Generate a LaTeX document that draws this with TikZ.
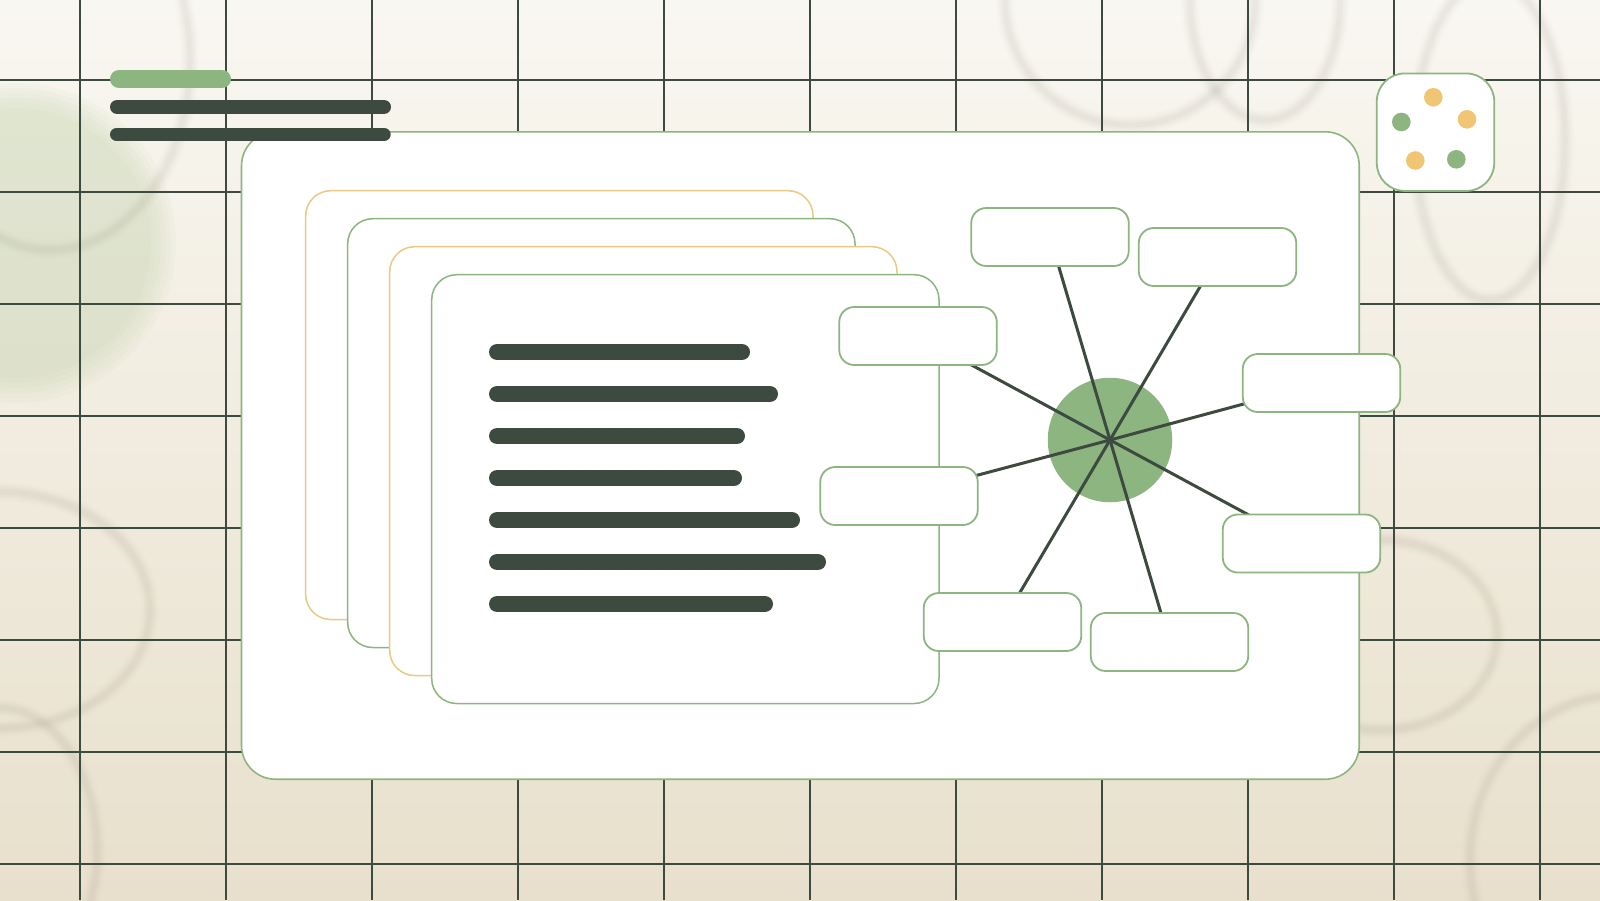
\documentclass[tikz,border=0pt]{standalone}
\definecolor{bgtop}{HTML}{F9F7F1}
\definecolor{bgbot}{HTML}{E8E0CC}
\definecolor{blobc}{HTML}{C9D6B4}
\definecolor{ringc}{HTML}{8C8270}
\definecolor{gr}{HTML}{8DB580}
\definecolor{dk}{HTML}{3C4A3F}
\definecolor{yst}{HTML}{E9C985}
\definecolor{ydot}{HTML}{F0C674}
\pgfdeclarelayer{back}
\pgfdeclarelayer{conn}
\pgfsetlayers{back,conn,main}
\begin{document}
\begin{tikzpicture}[x=1pt,y=-1pt,
  gridl/.style={draw=dk,line width=1.1pt},
  ring/.style={draw=ringc},
  bigcard/.style={draw=gr,fill=white,line width=1.6pt,rounded corners=34pt},
  gcard/.style={draw=gr,fill=white,line width=1.5pt,rounded corners=25pt},
  ycard/.style={draw=yst,fill=white,line width=1.5pt,rounded corners=25pt},
  txtbar/.style={draw=dk,line width=16pt,line cap=round},
  mmbox/.style={draw=gr,fill=white,line width=1.8pt,rounded corners=15pt,minimum width=157.5pt,minimum height=58pt,inner sep=0pt},
  hubc/.style={circle,fill=gr,minimum size=124.5pt,inner sep=0pt},
  conn/.style={draw=dk,line width=3pt},
  dicebox/.style={draw=gr,fill=white,line width=1.8pt,rounded corners=28pt,minimum width=117.5pt,minimum height=117.5pt,inner sep=0pt}]
\useasboundingbox (0,0) rectangle (1600,900);
\begin{pgfonlayer}{back}
  \shade[top color=bgtop,bottom color=bgbot] (0,0) rectangle (1600,900);
  \foreach \r in {135,140,...,160} \fill[blobc,opacity=0.095] (16,243) circle[radius=\r];
  \foreach \w/\o in {18/0.02,13/0.03,9/0.035,5/0.04}{
    \draw[ring,line width=\w pt,opacity=\o] (50,60) ellipse[x radius=140,y radius=190];
    \draw[ring,line width=\w pt,opacity=\o] (1130,0) ellipse[x radius=125,y radius=125];
    \draw[ring,line width=\w pt,opacity=\o] (1265,0) ellipse[x radius=75,y radius=120];
    \draw[ring,line width=\w pt,opacity=\o] (1490,140) ellipse[x radius=75,y radius=160];
    \draw[ring,line width=\w pt,opacity=\o] (0,610) ellipse[x radius=150,y radius=118];
    \draw[ring,line width=\w pt,opacity=\o] (0,850) ellipse[x radius=97,y radius=142];
    \draw[ring,line width=\w pt,opacity=\o] (1380,635) ellipse[x radius=117,y radius=95];
    \draw[ring,line width=\w pt,opacity=\o] (1620,860) ellipse[x radius=150,y radius=165];
  }
  \foreach \i in {0,...,10} \draw[gridl] ({80+146*\i},0) -- ({80+146*\i},900);
  \foreach \j in {0,...,7} \draw[gridl] (0,{80+112*\j}) -- (1600,{80+112*\j});
  \path[bigcard] (241.5,131.8) rectangle (1359.2,779.2);
  \path[ycard] (305.7,190.7) rectangle (813,619.5);
  \path[gcard] (347.7,218.7) rectangle (855,647.5);
  \path[ycard] (389.7,246.7) rectangle (897,675.5);
  \path[gcard] (431.7,274.7) rectangle (939,703.5);
  \foreach \e/\y in {750/352,778/394,745/436,742/478,800/520,826/562,773/604}
    \draw[txtbar] (497,\y) -- ({\e-8},\y);
\end{pgfonlayer}
% mind-map boxes
\node[mmbox] (b1) at (1050,237) {};
\node[mmbox] (b2) at (1217.5,257) {};
\node[mmbox] (b3) at (918,336) {};
\node[mmbox] (b4) at (1321.5,383) {};
\node[mmbox] (b5) at (899,496) {};
\node[mmbox] (b6) at (1301.5,543.5) {};
\node[mmbox] (b7) at (1002.5,622) {};
\node[mmbox] (b8) at (1169.5,642) {};
\begin{pgfonlayer}{conn}
  \node[hubc] (hub) at (1110,440) {};
  \foreach \b in {b1,b2,b3,b4,b5,b6,b7,b8} \draw[conn] (hub.center) -- (\b.center);
\end{pgfonlayer}
% dice icon
\node[dicebox] (dice) at (1435.5,132.2) {};
\fill[ydot] (1433.3,97.3) circle[radius=9.3];
\fill[gr] (1401.3,122) circle[radius=9.3];
\fill[ydot] (1467,119.3) circle[radius=9.3];
\fill[ydot] (1415.3,160.5) circle[radius=9.3];
\fill[gr] (1456.3,159.3) circle[radius=9.3];
% header bars
\draw[gr,line width=18pt,line cap=round] (119,79) -- (222,79);
\draw[dk,line width=14pt,line cap=round] (117,107) -- (384,107);
\draw[dk,line width=13pt,line cap=round] (116.5,134.5) -- (384.2,134.5);
\end{tikzpicture}
\end{document}
